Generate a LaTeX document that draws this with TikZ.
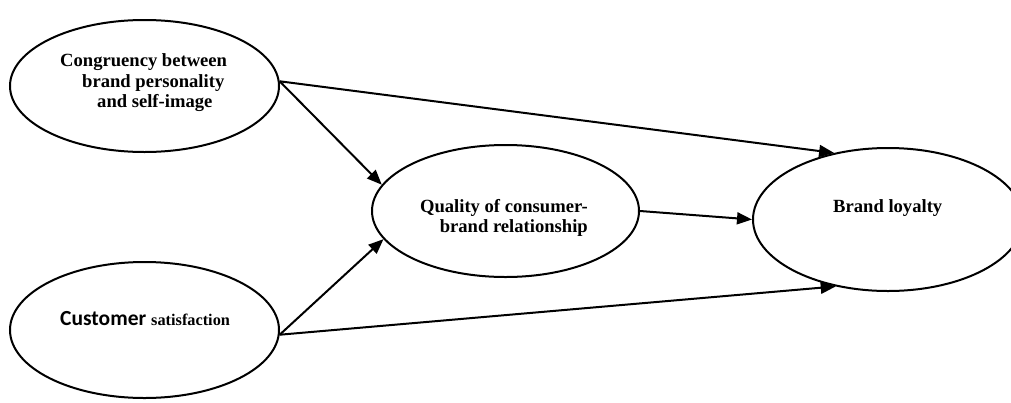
\documentclass[tikz,border=0pt]{standalone}
\usepackage{fontspec}
\setmainfont{Liberation Serif}
\newfontfamily\carlito{Carlito}
\usetikzlibrary{shapes.geometric,arrows.meta}
\tikzset{
  oval/.style={draw, ellipse, line width=2pt, inner sep=0pt},
  lbl/.style={inner sep=0pt, font=\bfseries\fontsize{18.6}{21}\selectfont},
  conn/.style={line width=2pt, -{Triangle[length=15pt,width=12pt]}}
}
\begin{document}
\begin{tikzpicture}[x=1pt,y=-1pt]
\useasboundingbox (0,0) rectangle (1011,402);
\node[oval, minimum width=269pt, minimum height=132pt] (c1) at (144.5,86) {};
\node[oval, minimum width=269pt, minimum height=136pt] (c2) at (144.5,330) {};
\node[oval, minimum width=267pt, minimum height=132pt] (q) at (505.5,211) {};
\node[oval, minimum width=270pt, minimum height=143pt] (bl) at (888,219.5) {};
% texts
\node[lbl, anchor=base west] (t1a) at (60,66) {Congruency between};
\node[lbl, anchor=base west] (t1b) at (82,87) {brand personality};
\node[lbl, anchor=base west] (t1c) at (97,107) {and self-image};
\node[inner sep=0pt, anchor=base west] (t2) at (60,325) {{\carlito\bfseries\fontsize{21.5}{21}\selectfont Customer}\hspace{5pt}{\bfseries\fontsize{16.3}{18}\selectfont satisfaction}};
\node[lbl, anchor=base east] (t3a) at (588,212) {Quality of consumer-};
\node[lbl, anchor=base east] (t3b) at (588,232) {brand relationship};
\node[lbl, anchor=base west] (t4) at (833,212) {Brand loyalty};
% connectors
\draw[conn] (c1.2) -- (q.168.6);
\draw[conn] (c1.2) -- (bl.129.4);
\draw[conn] (c2.-2.6) -- (q.193.2);
\draw[conn] (c2.-2.6) -- (bl.232.7);
\draw[conn] (q.0) -- (bl.180);
\end{tikzpicture}
\end{document}
